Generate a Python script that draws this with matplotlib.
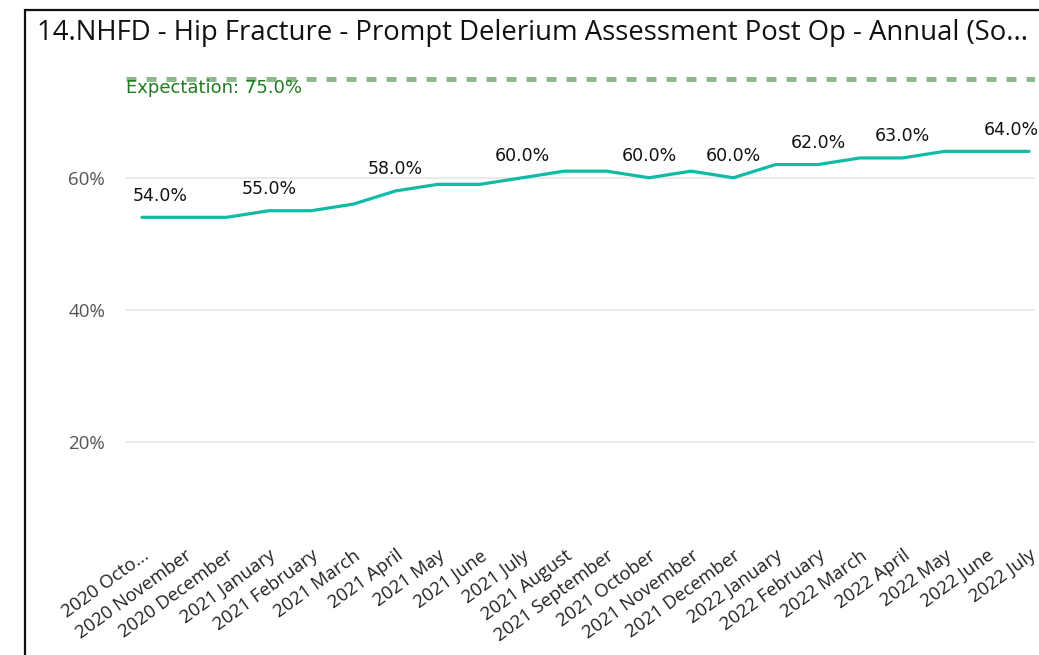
import numpy as np
import matplotlib.pyplot as plt
from matplotlib.patches import Rectangle
from matplotlib.ticker import FuncFormatter

months = ["2020 Octo...", "2020 November", "2020 December", "2021 January", "2021 February",
          "2021 March", "2021 April", "2021 May", "2021 June", "2021 July", "2021 August",
          "2021 September", "2021 October", "2021 November", "2021 December", "2022 January",
          "2022 February", "2022 March", "2022 April", "2022 May", "2022 June", "2022 July"]
values = [0.54, 0.54, 0.54, 0.55, 0.55, 0.56, 0.58, 0.59, 0.59, 0.60, 0.61,
          0.61, 0.60, 0.61, 0.60, 0.62, 0.62, 0.63, 0.63, 0.64, 0.64, 0.64]
labelled = [0, 3, 6, 9, 12, 14, 16, 18, 21]
expectation = 0.75
yticks = [0.2, 0.4, 0.6]

W, H = 1039, 655
fig = plt.figure(figsize=(W/100, H/100), dpi=100)
ax = fig.add_axes([126/W, (H-534)/H, (1035-126)/W, (534-59)/H])

x = np.arange(len(months))
ax.plot(x, values, color="#0FBAA6", lw=2.3, solid_capstyle="round", zorder=3)
ax.axhline(expectation, color="#8DBA8D", lw=3.6, dashes=(2.0, 2.0), zorder=2)
ax.text(-0.38, expectation - 0.001, "Expectation: 75.0%", color="#1E7B1E",
        fontsize=13, family="DejaVu Sans Condensed", va="top", ha="left", zorder=4)

for i in labelled:
    xi = x[i]
    if i == 0:
        xi = x[i] + 0.42
    if i == len(x) - 1:
        xi = x[i] - 0.42
    ax.text(xi, values[i] + 0.019, f"{values[i]*100:.1f}%", ha="center", va="bottom",
            fontsize=12.5, family="DejaVu Sans Condensed", color="#111111")

ax.set_xlim(-0.38, 21.14)
ax.set_ylim(0.06, 0.78)
ax.set_yticks(yticks)
ax.yaxis.set_major_formatter(FuncFormatter(lambda v, p: f"{v*100:.0f}%"))
ax.grid(axis="y", color="#E6E6E6", lw=1.2)
ax.set_axisbelow(True)
for s in ax.spines.values():
    s.set_visible(False)
ax.tick_params(axis="y", length=0, pad=15, labelsize=13.5, labelcolor="#555555")
ax.tick_params(axis="x", length=0, pad=9)
ax.set_xticks(x)
ax.set_xticklabels(months, rotation=36, ha="right", rotation_mode="anchor",
                   fontsize=13.3, family="Open Sans", color="#222222")
for lab in ax.get_yticklabels():
    lab.set_family("Open Sans")

fig.text(37/W, 1 - 33/H, "14.NHFD - Hip Fracture - Prompt Delerium Assessment Post Op - Annual (So...",
         fontsize=19.8, family="Open Sans", color="#111111", va="center", ha="left")

fig.patches.append(Rectangle((25/W, -0.1), 1.2, 1 - 10/H + 0.1, transform=fig.transFigure,
                             fill=False, edgecolor="#111111", lw=1.6))

fig.savefig("out.png", dpi=100)
